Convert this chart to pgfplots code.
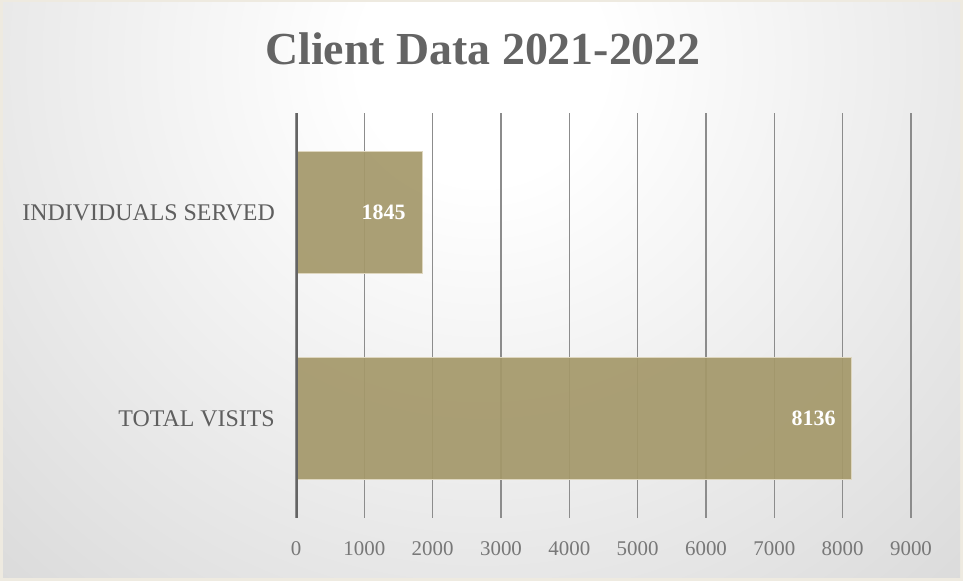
\documentclass[border=0pt]{standalone}
\usepackage{fontspec}
\setmainfont{Liberation Serif}
\usepackage{pgfplots}
\pgfplotsset{compat=1.18}
\definecolor{barc}{RGB}{164,152,106}
\definecolor{baredge}{RGB}{222,214,190}
\definecolor{titlec}{RGB}{100,100,100}
\definecolor{labc}{RGB}{95,95,95}
\definecolor{tickc}{RGB}{120,120,120}
\definecolor{gridc}{RGB}{140,140,140}
\definecolor{axc}{RGB}{100,100,100}
\definecolor{framec}{RGB}{238,234,224}
\definecolor{bgmid}{RGB}{201,201,201}
\definecolor{bgout}{RGB}{194,194,194}
\pgfdeclareradialshading{bg}{\pgfpoint{0bp}{0bp}}{color(0bp)=(white); color(4bp)=(white); color(33bp)=(bgmid); color(50bp)=(bgout)}
\begin{document}
\begin{tikzpicture}[x=1bp,y=1bp]
\fill[framec] (0,0) rectangle (963,581);
\begin{scope}
\clip (3,3) rectangle (960,578);
\shade[shading=bg] (482-760,521-760) rectangle (482+760,521+760);
\end{scope}
\node[anchor=base, text=titlec, font=\bfseries\fontsize{46}{52}\selectfont, inner sep=0] at (483,516) {Client Data 2021-2022};
\begin{axis}[
  at={(296bp,63bp)}, anchor=south west,
  scale only axis, width=615bp, height=405bp,
  xbar, bar width=0.59,
  xmin=0, xmax=9000, ymin=-0.483, ymax=1.483,
  xtick={0,1000,...,9000},
  ytick={0,1}, yticklabels={TOTAL VISITS, INDIVIDUALS SERVED},
  axis line style={draw=none},
  major tick length=0,
  xmajorgrids, grid style={gridc, line width=1.1bp},
  /pgf/number format/assume math mode=true,
  /pgf/number format/1000 sep={},
  xticklabel style={anchor=center, yshift=-31bp, text=tickc, font=\fontsize{21}{24}\selectfont, inner sep=0},
  yticklabel style={anchor=east, xshift=-21bp, text=labc, font=\fontsize{24}{26}\selectfont, inner sep=0},
  nodes near coords,
  nodes near coords align={anchor=east},
  every node near coord/.append style={text=white, font=\bfseries\fontsize{22}{24}\selectfont, xshift=-16bp, inner sep=0},
]
\addplot[fill=barc, fill opacity=0.92, text opacity=1, draw=baredge, line width=1bp] coordinates {(8136,0) (1845,1)};
\draw[axc, line width=4bp] (axis cs:0,-0.483) -- (axis cs:0,1.483);
\end{axis}
\end{tikzpicture}
\end{document}
